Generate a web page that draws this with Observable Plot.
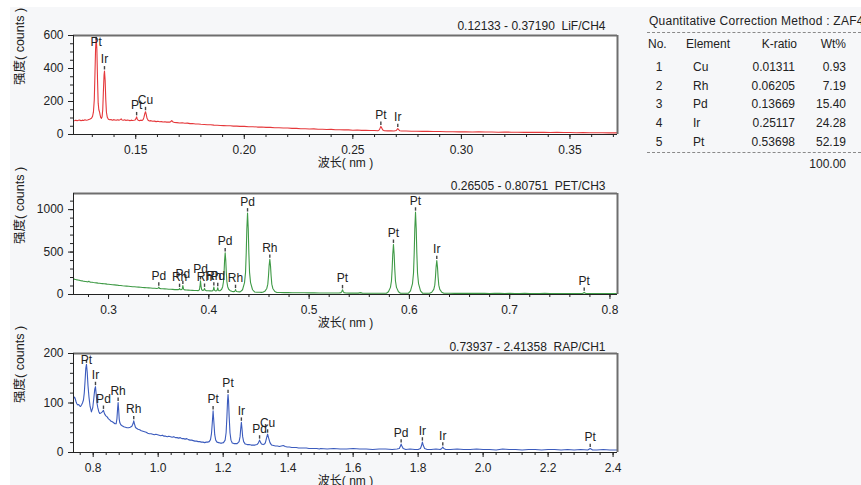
<!DOCTYPE html>
<html>
<head>
<meta charset="utf-8">
<script src="https://cdn.jsdelivr.net/npm/d3@7"></script>
<script src="https://cdn.jsdelivr.net/npm/@observablehq/plot@0.6"></script>
<style>
  html, body { margin: 0; padding: 0; background: #ffffff; width: 861px; height: 485px; overflow: hidden; }
  #bg { position: absolute; left: 10px; top: 7px; right: 0; bottom: 0; width: 851px; height: 478px; background: #f6f7f9; }
  .panel { position: absolute; left: 0; }
  .panel svg { overflow: visible; }
  #table { position: absolute; left: 0; top: 0; width: 861px; height: 485px; font-family: 'Liberation Sans', Arial, sans-serif; font-size: 12px; color: #222; }
  .cell { position: absolute; white-space: nowrap; line-height: 14px; }
  .dash { position: absolute; left: 647px; width: 214px; height: 0; border-top: 1px dashed #8a8a8a; }
</style>
</head>
<body>
<div id="bg"></div>
<div id="p1" class="panel" style="top:0px"></div>
<div id="p2" class="panel" style="top:170px"></div>
<div id="p3" class="panel" style="top:330px"></div>
<div id="table"></div>
<script>
// ---------------- DATA ----------------
// LiF/CH4 spectrum [wavelength nm, counts]
const lifSpectrum = [
[0.1218,84],[0.1224,87],[0.1230,83],[0.1236,86],[0.1242,88],[0.1248,84],[0.1254,87],[0.1260,85],[0.1266,89],[0.1272,86],[0.1278,88],[0.1284,91],[0.1290,94],[0.1296,99],[0.1301,110],[0.1305,135],[0.1309,210],[0.1312,360],[0.1315,520],[0.1318,588],[0.1321,515],[0.1324,330],[0.1327,190],[0.1330,150],[0.1333,138],[0.1336,118],[0.1339,102],[0.1342,98],[0.1345,108],[0.1348,150],[0.1351,260],[0.1354,360],[0.1356,385],[0.1359,330],[0.1362,210],[0.1365,135],[0.1369,104],[0.1374,92],[0.1380,89],[0.1386,91],[0.1392,87],[0.1398,90],[0.1404,88],[0.1410,86],[0.1416,89],[0.1422,87],[0.1428,90],[0.1433,95],[0.1437,88],[0.1443,86],[0.1449,89],[0.1455,85],[0.1461,88],[0.1467,86],[0.1473,84],[0.1479,87],[0.1485,85],[0.1491,86],[0.1497,88],[0.1501,96],[0.1504,107],[0.1507,94],[0.1511,86],[0.1517,84],[0.1523,87],[0.1529,85],[0.1534,90],[0.1538,105],[0.1542,128],[0.1545,138],[0.1548,124],[0.1552,98],[0.1557,86],[0.1563,82],[0.1570,84],[0.1578,80],[0.1586,81],[0.1594,78],[0.1602,80],[0.1610,77],[0.1618,78],[0.1626,76],[0.1634,77],[0.1642,75],[0.1650,76],[0.1658,75],[0.1663,80],[0.1666,85],[0.1670,77],[0.1678,73],[0.1690,72],[0.1702,70],[0.1714,71],[0.1726,68],[0.1738,69],[0.1750,66],[0.1762,67],[0.1775,64],[0.1788,64],[0.1800,62],[0.1815,61],[0.1830,59],[0.1845,59],[0.1860,57],[0.1875,56],[0.1890,55],[0.1905,54],[0.1920,53],[0.1935,53],[0.1950,51],[0.1965,51],[0.1980,49],[0.2000,49],[0.2020,47],[0.2040,47],[0.2060,45],[0.2080,45],[0.2100,43],[0.2120,43],[0.2140,41],[0.2160,41],[0.2180,39],[0.2200,39],[0.2220,37],[0.2240,37],[0.2260,35],[0.2280,35],[0.2300,33],[0.2320,34],[0.2340,32],[0.2360,32],[0.2380,30],[0.2400,31],[0.2420,29],[0.2440,29],[0.2460,28],[0.2480,28],[0.2500,26],[0.2520,27],[0.2540,25],[0.2560,25],[0.2580,24],[0.2600,24],[0.2615,23],[0.2622,28],[0.2626,40],[0.2629,49],[0.2633,40],[0.2638,27],[0.2645,23],[0.2660,22],[0.2675,23],[0.2690,21],[0.2699,24],[0.2704,31],[0.2707,36],[0.2711,30],[0.2716,23],[0.2725,21],[0.2745,21],[0.2770,20],[0.2795,20],[0.2820,19],[0.2845,19],[0.2870,18],[0.2900,18],[0.2930,17],[0.2960,17],[0.2990,16],[0.3020,17],[0.3050,15],[0.3080,16],[0.3110,15],[0.3140,15],[0.3170,14],[0.3200,15],[0.3230,14],[0.3260,14],[0.3290,13],[0.3320,14],[0.3350,13],[0.3380,13],[0.3410,12],[0.3440,13],[0.3470,12],[0.3500,12],[0.3530,11],[0.3560,12],[0.3590,11],[0.3620,11],[0.3650,11],[0.3680,10],[0.3719,10]
];
const lifPeaks = [
  {el:"Pt", x:0.1318, y:588}, {el:"Ir", x:0.1356, y:385}, {el:"Pt", x:0.1504, y:107},
  {el:"Cu", x:0.1545, y:138}, {el:"Pt", x:0.2629, y:49}, {el:"Ir", x:0.2707, y:36}
];

// PET/CH3 spectrum
const petSpectrum = [
[0.2655,182],[0.2665,178],[0.2675,176],[0.2685,172],[0.2695,170],[0.2705,167],[0.2715,166],[0.2725,162],[0.2735,161],[0.2745,158],[0.2755,157],[0.2765,154],[0.2775,153],[0.2785,150],[0.2795,149],[0.2803,156],[0.2810,150],[0.2820,146],[0.2835,144],[0.2850,141],[0.2865,139],[0.2880,137],[0.2895,134],[0.2910,133],[0.2925,130],[0.2940,128],[0.2955,126],[0.2970,125],[0.2985,122],[0.3000,121],[0.3020,118],[0.3040,115],[0.3060,113],[0.3080,111],[0.3100,108],[0.3120,106],[0.3140,103],[0.3160,101],[0.3180,99],[0.3200,97],[0.3220,95],[0.3240,92],[0.3260,91],[0.3280,88],[0.3300,87],[0.3320,85],[0.3340,83],[0.3360,81],[0.3380,79],[0.3400,78],[0.3420,76],[0.3440,74],[0.3460,73],[0.3480,71],[0.3493,73],[0.3501,86],[0.3509,72],[0.3522,69],[0.3540,67],[0.3560,66],[0.3580,64],[0.3600,62],[0.3620,61],[0.3640,60],[0.3660,58],[0.3680,57],[0.3695,57],[0.3703,61],[0.3708,70],[0.3714,60],[0.3722,57],[0.3734,62],[0.3741,105],[0.3748,63],[0.3758,55],[0.3775,53],[0.3795,52],[0.3815,50],[0.3835,49],[0.3855,48],[0.3875,47],[0.3895,46],[0.3906,56],[0.3912,98],[0.3917,160],[0.3922,100],[0.3929,55],[0.3940,47],[0.3950,52],[0.3957,72],[0.3963,52],[0.3975,45],[0.3995,44],[0.4015,43],[0.4035,42],[0.4044,52],[0.4050,88],[0.4056,52],[0.4066,42],[0.4077,44],[0.4083,52],[0.4089,80],[0.4095,52],[0.4103,44],[0.4113,46],[0.4128,62],[0.4138,92],[0.4146,150],[0.4152,263],[0.4157,400],[0.4163,490],[0.4169,400],[0.4174,263],[0.4180,150],[0.4188,92],[0.4198,62],[0.4213,45],[0.4230,37],[0.4248,34],[0.4258,37],[0.4263,48],[0.4266,58],[0.4270,48],[0.4276,36],[0.4290,32],[0.4305,31],[0.4316,33],[0.4336,56],[0.4356,140],[0.4366,261],[0.4373,494],[0.4379,774],[0.4386,960],[0.4393,774],[0.4399,494],[0.4406,261],[0.4416,140],[0.4436,56],[0.4456,30],[0.4480,27],[0.4505,26],[0.4525,25],[0.4538,26],[0.4558,37],[0.4578,71],[0.4588,122],[0.4595,220],[0.4601,337],[0.4608,415],[0.4615,337],[0.4621,220],[0.4628,122],[0.4638,71],[0.4658,35],[0.4678,24],[0.4710,23],[0.4750,22],[0.4790,22],[0.4830,21],[0.4870,21],[0.4910,20],[0.4950,20],[0.5000,19],[0.5050,19],[0.5100,18],[0.5150,18],[0.5200,17],[0.5250,17],[0.5300,17],[0.5318,22],[0.5326,35],[0.5333,55],[0.5340,35],[0.5348,22],[0.5366,17],[0.5400,16],[0.5450,16],[0.5490,16],[0.5510,22],[0.5530,16],[0.5580,15],[0.5630,15],[0.5680,15],[0.5730,15],[0.5771,15],[0.5791,32],[0.5811,84],[0.5821,159],[0.5828,302],[0.5834,475],[0.5841,590],[0.5848,475],[0.5854,302],[0.5861,159],[0.5871,84],[0.5891,32],[0.5911,15],[0.5950,14],[0.5991,15],[0.6011,43],[0.6031,129],[0.6041,253],[0.6048,492],[0.6054,779],[0.6061,970],[0.6068,779],[0.6074,492],[0.6081,253],[0.6091,129],[0.6111,42],[0.6131,15],[0.6170,14],[0.6203,14],[0.6223,26],[0.6243,60],[0.6253,110],[0.6260,207],[0.6266,323],[0.6273,400],[0.6280,323],[0.6286,207],[0.6293,110],[0.6303,60],[0.6323,26],[0.6343,14],[0.6400,14],[0.6450,13],[0.6500,14],[0.6550,13],[0.6600,13],[0.6650,14],[0.6700,13],[0.6750,13],[0.6800,12],[0.6850,13],[0.6900,13],[0.6950,12],[0.7000,13],[0.7050,12],[0.7100,12],[0.7150,13],[0.7200,12],[0.7250,12],[0.7300,12],[0.7350,13],[0.7400,12],[0.7450,12],[0.7500,12],[0.7550,12],[0.7600,12],[0.7650,11],[0.7700,12],[0.7725,12],[0.7736,17],[0.7743,26],[0.7750,17],[0.7761,12],[0.7800,12],[0.7850,11],[0.7900,11],[0.7950,11],[0.8000,11],[0.8074,11]
];
const petPeaks = [
  {el:"Pd", x:0.3501, y:86}, {el:"Rh", x:0.3708, y:70}, {el:"Pd", x:0.3741, y:105},
  {el:"Pd", x:0.3917, y:160}, {el:"Rh", x:0.3957, y:72}, {el:"Rh", x:0.4050, y:88},
  {el:"Pd", x:0.4089, y:80}, {el:"Pd", x:0.4163, y:490}, {el:"Rh", x:0.4266, y:58},
  {el:"Pd", x:0.4386, y:960}, {el:"Rh", x:0.4608, y:415}, {el:"Pt", x:0.5333, y:55},
  {el:"Pt", x:0.5841, y:590}, {el:"Pt", x:0.6061, y:970}, {el:"Ir", x:0.6273, y:400},
  {el:"Pt", x:0.7743, y:26}
];

// RAP/CH1 spectrum
const rapSpectrum = [
[0.7400,110],[0.7425,112],[0.7450,108],[0.7475,102],[0.7500,98],[0.7526,96],[0.7555,97],[0.7585,94],[0.7610,93],[0.7640,96],[0.7670,100],[0.7700,106],[0.7725,120],[0.7750,145],[0.7772,170],[0.7793,178],[0.7815,163],[0.7840,135],[0.7870,112],[0.7905,93],[0.7945,82],[0.7985,90],[0.8020,110],[0.8048,128],[0.8070,133],[0.8092,118],[0.8115,100],[0.8140,91],[0.8170,83],[0.8200,79],[0.8240,80],[0.8280,82],[0.8316,85],[0.8350,78],[0.8390,74],[0.8430,72],[0.8470,68],[0.8510,66],[0.8550,63],[0.8590,62],[0.8630,60],[0.8670,58],[0.8705,58],[0.8730,68],[0.8752,90],[0.8767,101],[0.8782,88],[0.8800,68],[0.8820,60],[0.8850,56],[0.8890,54],[0.8940,52],[0.8990,51],[0.9040,50],[0.9090,50],[0.9140,51],[0.9190,53],[0.9225,58],[0.9248,64],[0.9270,58],[0.9300,51],[0.9330,49],[0.9380,47],[0.9430,46],[0.9480,44],[0.9530,43],[0.9580,42],[0.9630,41],[0.9680,39],[0.9730,38],[0.9780,38],[0.9830,37],[0.9880,36],[0.9930,37],[0.9980,36],[1.0030,35],[1.0080,34],[1.0130,35],[1.0180,33],[1.0230,33],[1.0280,32],[1.0330,33],[1.0380,32],[1.0430,31],[1.0480,32],[1.0530,30],[1.0580,30],[1.0630,29],[1.0680,30],[1.0730,28],[1.0780,28],[1.0830,27],[1.0880,28],[1.0930,26],[1.0980,25],[1.1030,25],[1.1080,24],[1.1130,23],[1.1180,23],[1.1230,22],[1.1280,22],[1.1330,21],[1.1380,21],[1.1430,20],[1.1480,21],[1.1520,21],[1.1570,22],[1.1610,26],[1.1640,38],[1.1665,60],[1.1690,84],[1.1715,60],[1.1740,36],[1.1770,25],[1.1810,21],[1.1860,20],[1.1910,19],[1.1960,19],[1.2010,20],[1.2060,25],[1.2090,40],[1.2115,72],[1.2135,105],[1.2150,117],[1.2165,105],[1.2185,72],[1.2210,40],[1.2240,25],[1.2280,19],[1.2330,18],[1.2380,18],[1.2430,18],[1.2490,22],[1.2520,32],[1.2540,48],[1.2560,61],[1.2580,48],[1.2600,32],[1.2630,22],[1.2680,17],[1.2740,16],[1.2800,16],[1.2860,15],[1.2920,15],[1.2980,15],[1.3040,16],[1.3080,19],[1.3100,22],[1.3120,25],[1.3145,21],[1.3180,17],[1.3230,16],[1.3270,17],[1.3300,20],[1.3330,28],[1.3367,37],[1.3400,29],[1.3440,20],[1.3490,15],[1.3550,14],[1.3610,13],[1.3670,13],[1.3730,12],[1.3790,13],[1.3850,14],[1.3910,12],[1.3970,11],[1.4040,11],[1.4110,10],[1.4180,10],[1.4250,10],[1.4320,9],[1.4400,9],[1.4480,9],[1.4560,9],[1.4640,8],[1.4720,8],[1.4800,8],[1.4880,8],[1.4960,7],[1.5000,8],[1.5200,7],[1.5400,8],[1.5600,7],[1.5800,7],[1.6000,8],[1.6200,7],[1.6400,7],[1.6600,6],[1.6800,7],[1.7000,7],[1.7200,6],[1.7350,7],[1.7420,8],[1.7450,12],[1.7477,17],[1.7500,13],[1.7540,8],[1.7620,6],[1.7750,7],[1.7900,6],[1.8000,6],[1.8070,8],[1.8100,13],[1.8131,21],[1.8160,14],[1.8200,8],[1.8280,6],[1.8400,6],[1.8550,7],[1.8680,6],[1.8730,8],[1.8759,11],[1.8790,8],[1.8850,6],[1.9000,6],[1.9200,7],[1.9400,6],[1.9600,6],[1.9800,7],[2.0000,6],[2.0200,6],[2.0400,5],[2.0600,7],[2.0800,6],[2.1000,6],[2.1200,5],[2.1400,6],[2.1600,6],[2.1800,5],[2.2000,6],[2.2200,6],[2.2400,5],[2.2600,6],[2.2800,5],[2.3000,6],[2.3220,5],[2.3296,8],[2.3370,5],[2.3500,5],[2.3700,6],[2.3900,5],[2.4135,5]
];
const rapPeaks = [
  {el:"Pt", x:0.7793, y:178}, {el:"Ir", x:0.8070, y:133}, {el:"Pd", x:0.8316, y:85},
  {el:"Rh", x:0.8767, y:101}, {el:"Rh", x:0.9248, y:64}, {el:"Pt", x:1.1690, y:84},
  {el:"Pt", x:1.2150, y:117}, {el:"Ir", x:1.2560, y:61}, {el:"Pd", x:1.3120, y:25},
  {el:"Cu", x:1.3367, y:37}, {el:"Pd", x:1.7477, y:17}, {el:"Ir", x:1.8131, y:21},
  {el:"Ir", x:1.8759, y:11}, {el:"Pt", x:2.3296, y:8}
];

// axes ticks
const lifXTicks = [0.15, 0.20, 0.25, 0.30, 0.35];
const lifYTicks = [0, 200, 400, 600];
const petXTicks = [0.3, 0.4, 0.5, 0.6, 0.7, 0.8];
const petYTicks = [0, 500, 1000];
const rapXTicks = [0.8, 1.0, 1.2, 1.4, 1.6, 1.8, 2.0, 2.2, 2.4];
const rapYTicks = [0, 100, 200];

// titles
const titles = ["0.12133 - 0.37190\u00a0\u00a0LiF/CH4", "0.26505 - 0.80751\u00a0\u00a0PET/CH3", "0.73937 - 2.41358\u00a0\u00a0RAP/CH1"];
const xTitle = "波长( nm )";
const yTitle = "强度( counts )";

// quantitative table
const tableTitle = "Quantitative Correction Method : ZAF4";
const tableHeader = ["No.", "Element", "K-ratio", "Wt%"];
const tableNo = ["1", "2", "3", "4", "5"];
const tableElement = ["Cu", "Rh", "Pd", "Ir", "Pt"];
const tableKRatio = ["0.01311", "0.06205", "0.13669", "0.25117", "0.53698"];
const tableWt = ["0.93", "7.19", "15.40", "24.28", "52.19"];
const tableTotal = "100.00";

// ---------------- DRAW ----------------
const FONT = "'Liberation Sans', Arial, 'Noto Sans CJK SC', sans-serif";
const vtick = {draw(ctx) { ctx.moveTo(0, -1.7); ctx.lineTo(0, 1.7); }};

function panel(o) {
  const Hf = o.height - o.marginTop - o.marginBottom;
  const u = o.yMax / Hf;
  const [x0, x1] = o.xDomain;
  return Plot.plot({
    width: 630, height: o.height,
    marginLeft: 73, marginRight: 13, marginTop: o.marginTop, marginBottom: o.marginBottom,
    style: {fontFamily: FONT, fontSize: "12px", background: "transparent", color: "#222", overflow: "visible"},
    x: {domain: o.xDomain},
    y: {domain: [0, o.yMax]},
    marks: [
      Plot.frame({fill: "white", stroke: "none"}),
      Plot.line(o.spectrum, {x: d => d[0], y: d => d[1], stroke: o.color, strokeWidth: 1.1, clip: true}),
      Plot.dot(o.peaks, {x: "x", y: d => Math.min(d.y + 3.2 * u, o.yMax - 3 * u), symbol: vtick, stroke: "#444", strokeWidth: 1.4, fill: "none"}),
      Plot.text(o.peaks, {x: "x", y: d => Math.min(d.y + 7.5 * u, o.yMax - 10 * u), text: "el", lineAnchor: "bottom", fontSize: 12, fill: "#222"}),
      Plot.ruleY([o.yMax], {stroke: "#6e6e6e", strokeWidth: 2}),
      Plot.ruleX([x1], {stroke: "#6e6e6e", strokeWidth: 2}),
      Plot.ruleX([x0], {stroke: "#222", strokeWidth: 1}),
      Plot.ruleY([0], {stroke: "#222", strokeWidth: 1}),
      Plot.axisX({ticks: o.xMinor, tickSize: 3, tickFormat: () => "", label: null, anchor: "bottom"}),
      Plot.axisX({ticks: o.xTicks, tickSize: 5, tickPadding: 5.5, tickFormat: o.xFormat, label: null, anchor: "bottom", fontSize: 12}),
      Plot.axisY({ticks: o.yMinor, tickSize: 3, tickFormat: () => "", label: null, anchor: "left"}),
      Plot.axisY({ticks: o.yTicks, tickSize: 5, tickPadding: 5, tickFormat: d3.format("d"), label: null, anchor: "left", fontSize: 12}),
      Plot.text([o.title], {text: d => d, frameAnchor: "top-right", dx: -12, dy: o.titleDy, textAnchor: "end", lineAnchor: "middle", fontSize: 12, fill: "#222"}),
      Plot.text([xTitle], {text: d => d, frameAnchor: "bottom", dy: 28.5, lineAnchor: "middle", fontSize: 12, fill: "#222"}),
      Plot.text([yTitle], {text: d => d, frameAnchor: "left", dx: -54, rotate: -90, lineAnchor: "middle", fontSize: 12.5, fill: "#222"})
    ]
  });
}

const fmt2 = d3.format(".2f"), fmt1 = d3.format(".1f");

document.getElementById("p1").appendChild(panel({
  spectrum: lifSpectrum, peaks: lifPeaks, color: "#e5383b",
  xDomain: [0.12133, 0.37190], yMax: 600,
  xTicks: lifXTicks, xMinor: d3.range(0.13, 0.372, 0.01), yTicks: lifYTicks, yMinor: d3.range(0, 601, 50),
  xFormat: fmt2, title: titles[0], height: 170, marginTop: 35, marginBottom: 36, titleDy: -9
}));
document.getElementById("p2").appendChild(panel({
  spectrum: petSpectrum, peaks: petPeaks, color: "#3f9a46",
  xDomain: [0.26505, 0.80751], yMax: 1190,
  xTicks: petXTicks, xMinor: d3.range(0.28, 0.807, 0.02), yTicks: petYTicks, yMinor: d3.range(0, 1190, 100),
  xFormat: fmt1, title: titles[1], height: 160, marginTop: 23, marginBottom: 36, titleDy: -7
}));
document.getElementById("p3").appendChild(panel({
  spectrum: rapSpectrum, peaks: rapPeaks, color: "#3b5bbd",
  xDomain: [0.73937, 2.41358], yMax: 200,
  xTicks: rapXTicks, xMinor: d3.range(0.76, 2.413, 0.04), yTicks: rapYTicks, yMinor: d3.range(0, 201, 20),
  xFormat: fmt1, title: titles[2], height: 155, marginTop: 23, marginBottom: 33, titleDy: -6
}));

// table
const tbl = document.getElementById("table");
function cell(text, x, yc, align, extra) {
  const d = document.createElement("div");
  d.className = "cell";
  d.textContent = text;
  d.style.top = (yc - 7) + "px";
  if (align === "right") { d.style.right = (861 - x) + "px"; }
  else if (align === "center") { d.style.left = (x - 20) + "px"; d.style.width = "40px"; d.style.textAlign = "center"; }
  else { d.style.left = x + "px"; }
  if (extra) Object.assign(d.style, extra);
  tbl.appendChild(d);
}
function dash(y) {
  const d = document.createElement("div");
  d.className = "dash"; d.style.top = y + "px"; tbl.appendChild(d);
}
cell(tableTitle, 649, 20.5, "left", {letterSpacing: "0.25px"});
dash(32);
cell(tableHeader[0], 648, 44.3, "left");
cell(tableHeader[1], 686, 44.3, "left");
cell(tableHeader[2], 797, 44.3, "right");
cell(tableHeader[3], 846, 44.3, "right");
const rowY = [66.7, 85.5, 104.3, 123.3, 142.3];
tableNo.forEach((n, i) => {
  cell(n, 659, rowY[i], "center");
  cell(tableElement[i], 693, rowY[i], "left");
  cell(tableKRatio[i], 795, rowY[i], "right");
  cell(tableWt[i], 846, rowY[i], "right");
});
dash(152);
cell(tableTotal, 846, 164.3, "right");
</script>
</body>
</html>
